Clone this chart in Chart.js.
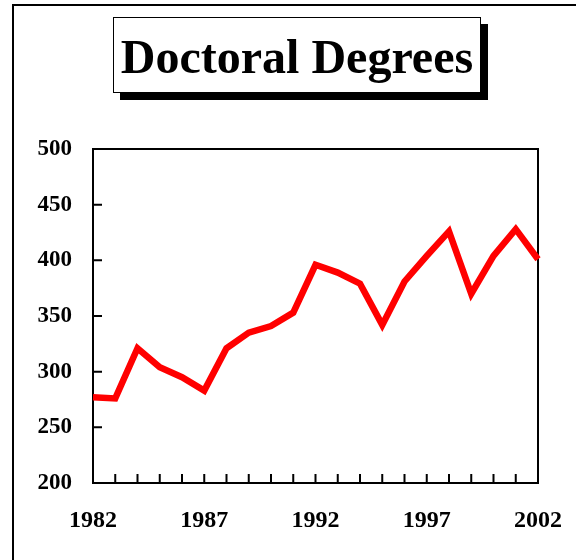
<!DOCTYPE html>
<html>
<head>
<meta charset="utf-8">
<script src="https://cdn.jsdelivr.net/npm/chart.js@4/dist/chart.umd.min.js"></script>
<style>
  html, body { margin: 0; padding: 0; background: #fff; width: 576px; height: 560px; overflow: hidden; }
  #frame { position: absolute; left: 12px; top: 4px; width: 640px; height: 640px; border: 2px solid #000; box-sizing: border-box; }
  #titleBox { position: absolute; left: 113px; top: 17px; width: 368px; height: 76px; border: 1.5px solid #000; box-sizing: border-box; background: #fff; box-shadow: 7px 7px 0 #000; display: flex; align-items: center; justify-content: center; overflow: visible; z-index: 2; padding-top: 4px; }
  #titleBox span { font-family: "Liberation Serif", "Times New Roman", serif; font-weight: bold; font-size: 48px; line-height: 1; white-space: nowrap; display: inline-block; color: #000; }
  canvas { position: absolute; left: 0; top: 0; z-index: 1; }
</style>
</head>
<body>
<div id="frame"></div>
<canvas id="c" width="576" height="560"></canvas>
<div id="titleBox"><span>Doctoral Degrees</span></div>
<script>
const years = ["1982","1983","1984","1985","1986","1987","1988","1989","1990","1991","1992","1993","1994","1995","1996","1997","1998","1999","2000","2001","2002"];
const degrees = [277, 276, 321, 304, 295, 283, 321, 335, 341, 353, 396, 389, 379, 342, 381, 404, 426, 370, 404, 428, 401];
const yTicks = [200, 250, 300, 350, 400, 450, 500];
const shownYears = ["1982","1987","1992","1997","2002"];

const frameTicks = {
  id: 'frameTicks',
  beforeDatasetsDraw(chart) {
    const ctx = chart.ctx;
    const a = chart.chartArea;
    const xs = chart.scales.x, ys = chart.scales.y;
    ctx.save();
    ctx.strokeStyle = '#000';
    ctx.lineWidth = 2;
    ctx.strokeRect(a.left, a.top, a.right - a.left, a.bottom - a.top);
    ctx.beginPath();
    xs.ticks.forEach((t, i) => {
      const x = xs.getPixelForTick(i);
      ctx.moveTo(x, a.bottom);
      ctx.lineTo(x, a.bottom - 9);
    });
    ys.ticks.forEach((t) => {
      const y = ys.getPixelForValue(t.value);
      ctx.moveTo(a.left, y);
      ctx.lineTo(a.left + 9, y);
    });
    ctx.stroke();
    ctx.restore();
  }
};

new Chart(document.getElementById('c'), {
  type: 'line',
  data: {
    labels: years,
    datasets: [{
      data: degrees,
      borderColor: '#ff0000',
      backgroundColor: '#ff0000',
      borderWidth: 6.5,
      borderJoinStyle: 'miter',
      borderCapStyle: 'butt',
      tension: 0,
      pointRadius: 0,
      fill: false
    }]
  },
  options: {
    responsive: false,
    animation: false,
    layout: { padding: { left: 0, right: 38, top: 149, bottom: 0 } },
    plugins: { legend: { display: false }, tooltip: { enabled: false }, title: { display: false } },
    scales: {
      x: {
        type: 'category',
        offset: false,
        grid: { display: false, drawTicks: false },
        border: { display: false },
        afterFit(s) { s.height = 77; s.paddingLeft = 0; s.paddingRight = 0; },
        ticks: {
          autoSkip: false,
          maxRotation: 0,
          padding: 23,
          color: '#000',
          font: { family: 'Liberation Serif', weight: 'bold', size: 24 },
          callback(v, i) { const l = years[i]; return shownYears.includes(l) ? l : ''; }
        }
      },
      y: {
        min: yTicks[0],
        max: yTicks[yTicks.length - 1],
        afterBuildTicks(s) { s.ticks = yTicks.map(v => ({ value: v })); },
        grid: { display: false, drawTicks: false },
        border: { display: false },
        afterFit(s) { s.width = 93; s.paddingTop = 0; s.paddingBottom = 0; },
        ticks: {
          padding: 21,
          color: '#000',
          font: { family: 'Liberation Serif', weight: 'bold', size: 23 }
        }
      }
    }
  },
  plugins: [frameTicks]
});
</script>
</body>
</html>
